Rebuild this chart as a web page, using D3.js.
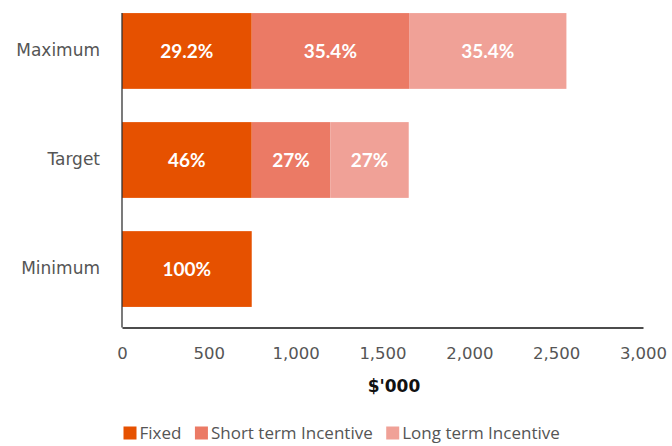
<!DOCTYPE html>
<html>
<head>
<meta charset="utf-8">
<script src="https://cdn.jsdelivr.net/npm/d3@7"></script>
<style>
  body { margin: 0; background: #fff; }
  svg { display: block; }
  .tick-text { font-family: "DejaVu Sans", sans-serif; fill: #555; }
  .legend-text { font-family: "Open Sans", sans-serif; fill: #555; }
</style>
</head>
<body>
<div id="chart"></div>
<script>
// Data ($'000)
const levels = ["Maximum", "Target", "Minimum"];
const fixedVals = [747, 747, 747];
const stiVals = [906, 452, 0];
const ltiVals = [906, 452, 0];
const fixedPct = ["29.2%", "46%", "100%"];
const stiPct = ["35.4%", "27%", ""];
const ltiPct = ["35.4%", "27%", ""];
const seriesNames = ["Fixed", "Short term Incentive", "Long term Incentive"];
const xTicks = [0, 500, 1000, 1500, 2000, 2500, 3000];

const width = 672, height = 446;
const left = 122, right = 643, axisY = 327.5;

const keys = ["fixed", "sti", "lti"];
const colors = ["#E65100", "#EB7A65", "#F0A197"];

const rows = levels.map((lvl, i) => ({
  level: lvl,
  fixed: fixedVals[i], sti: stiVals[i], lti: ltiVals[i],
  fixedPct: fixedPct[i], stiPct: stiPct[i], ltiPct: ltiPct[i]
}));

const svg = d3.select("#chart").append("svg")
  .attr("width", width)
  .attr("height", height);

const x = d3.scaleLinear().domain([0, 3000]).range([left, right]);
const y = d3.scaleBand().domain(levels).range([0, 320])
  .paddingInner(0.305).paddingOuter(0.12);

const color = d3.scaleOrdinal().domain(keys).range(colors);

const stacked = d3.stack().keys(keys)(rows);

// bars
const layer = svg.selectAll(".layer")
  .data(stacked)
  .enter().append("g")
  .attr("class", "layer")
  .attr("fill", d => color(d.key));

layer.selectAll("rect")
  .data(d => d.filter(s => s[1] > s[0]))
  .enter().append("rect")
  .attr("x", d => x(d[0]))
  .attr("y", d => y(d.data.level))
  .attr("width", d => x(d[1]) - x(d[0]))
  .attr("height", y.bandwidth());

// labels inside bars
layer.selectAll("text")
  .data(s => s.filter(d => d[1] > d[0]).map(d => ({ d: d, key: s.key })))
  .enter().append("text")
  .attr("x", o => (x(o.d[0]) + x(o.d[1])) / 2)
  .attr("y", o => y(o.d.data.level) + y.bandwidth() / 2)
  .attr("dy", "0.36em")
  .attr("text-anchor", "middle")
  .style("font-family", "Lato, sans-serif")
  .style("font-weight", "bold")
  .style("font-size", "19px")
  .style("fill", "#fff")
  .text(o => o.d.data[o.key + "Pct"]);

// y axis
const yAxis = svg.append("g")
  .attr("transform", `translate(${left},0)`)
  .call(d3.axisLeft(y).tickSize(0).tickPadding(22));
yAxis.select(".domain").remove();
yAxis.selectAll("text")
  .attr("class", "tick-text")
  .style("font-size", "17px")
  .attr("fill", null);

svg.append("line")
  .attr("x1", left).attr("x2", left)
  .attr("y1", y(levels[0])).attr("y2", axisY)
  .attr("stroke", "#333")
  .attr("stroke-width", 1.3);

// x axis
const xAxis = svg.append("g")
  .attr("transform", `translate(0,${axisY})`)
  .call(d3.axisBottom(x).tickValues(xTicks).tickFormat(d3.format(",")).tickSize(0).tickPadding(19.8));
xAxis.select(".domain")
  .attr("stroke", "#111")
  .attr("stroke-width", 1.5);
xAxis.selectAll("text")
  .attr("class", "tick-text")
  .style("font-size", "16.5px")
  .attr("fill", null);

// axis title
svg.append("text")
  .attr("x", 394)
  .attr("y", 392)
  .attr("text-anchor", "middle")
  .style("font-family", "'DejaVu Sans', sans-serif")
  .style("font-weight", "bold")
  .style("font-size", "17px")
  .style("fill", "#111")
  .text("$'000");

// legend (nudged up a little so descenders stay inside the frame)
const legend = svg.append("g").attr("transform", "translate(123.5,426.5)");
let lx = 0;
seriesNames.forEach((name, i) => {
  const g = legend.append("g").attr("transform", `translate(${lx},0)`);
  g.append("rect")
    .attr("width", 13)
    .attr("height", 13)
    .attr("fill", colors[i]);
  const t = g.append("text")
    .attr("x", 16)
    .attr("y", 12.7)
    .attr("class", "legend-text")
    .style("font-size", "17px")
    .text(name);
  lx += 16 + t.node().getComputedTextLength() + 13.5;
});
</script>
</body>
</html>
